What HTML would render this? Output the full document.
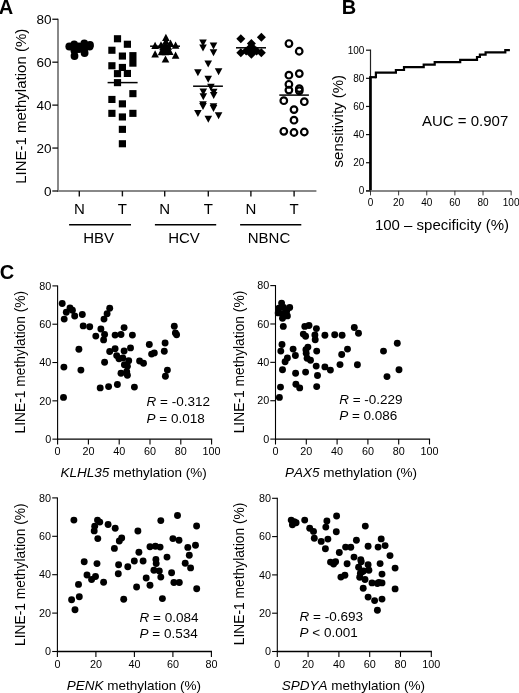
<!DOCTYPE html>
<html><head><meta charset="utf-8"><style>
html,body{margin:0;padding:0;background:#fff;}
svg{display:block;will-change:transform;}
text{font-family:"Liberation Sans",sans-serif;fill:#000;font-kerning:none;}
</style></head><body>
<svg width="519" height="693" viewBox="0 0 519 693">
<rect width="519" height="693" fill="#fff"/>
<text x="-1.20" y="13.90" font-size="20" text-anchor="start" font-weight="bold" font-style="normal" >A</text>
<line x1="58.00" y1="18.65" x2="58.00" y2="192.00" stroke="#888" stroke-width="2"/>
<line x1="57.00" y1="191.00" x2="316.40" y2="191.00" stroke="#888" stroke-width="2"/>
<line x1="52.30" y1="191.00" x2="58.00" y2="191.00" stroke="#111" stroke-width="1.3"/>
<text x="51.60" y="195.70" font-size="13.5" text-anchor="end" font-weight="normal" font-style="normal" >0</text>
<line x1="52.30" y1="148.06" x2="58.00" y2="148.06" stroke="#111" stroke-width="1.3"/>
<text x="51.60" y="152.76" font-size="13.5" text-anchor="end" font-weight="normal" font-style="normal" >20</text>
<line x1="52.30" y1="105.12" x2="58.00" y2="105.12" stroke="#111" stroke-width="1.3"/>
<text x="51.60" y="109.83" font-size="13.5" text-anchor="end" font-weight="normal" font-style="normal" >40</text>
<line x1="52.30" y1="62.19" x2="58.00" y2="62.19" stroke="#111" stroke-width="1.3"/>
<text x="51.60" y="66.89" font-size="13.5" text-anchor="end" font-weight="normal" font-style="normal" >60</text>
<line x1="52.30" y1="19.25" x2="58.00" y2="19.25" stroke="#111" stroke-width="1.3"/>
<text x="51.60" y="23.95" font-size="13.5" text-anchor="end" font-weight="normal" font-style="normal" >80</text>
<text x="0" y="0" font-size="15" text-anchor="middle" transform="translate(25.80,106.30) rotate(-90)">LINE-1 methylation (%)</text>
<line x1="79.30" y1="191.00" x2="79.30" y2="196.40" stroke="#111" stroke-width="1.4"/>
<text x="79.30" y="214.30" font-size="15" text-anchor="middle" font-weight="normal" font-style="normal" >N</text>
<line x1="122.40" y1="191.00" x2="122.40" y2="196.40" stroke="#111" stroke-width="1.4"/>
<text x="122.40" y="214.30" font-size="15" text-anchor="middle" font-weight="normal" font-style="normal" >T</text>
<line x1="164.70" y1="191.00" x2="164.70" y2="196.40" stroke="#111" stroke-width="1.4"/>
<text x="164.70" y="214.30" font-size="15" text-anchor="middle" font-weight="normal" font-style="normal" >N</text>
<line x1="208.30" y1="191.00" x2="208.30" y2="196.40" stroke="#111" stroke-width="1.4"/>
<text x="208.30" y="214.30" font-size="15" text-anchor="middle" font-weight="normal" font-style="normal" >T</text>
<line x1="250.90" y1="191.00" x2="250.90" y2="196.40" stroke="#111" stroke-width="1.4"/>
<text x="250.90" y="214.30" font-size="15" text-anchor="middle" font-weight="normal" font-style="normal" >N</text>
<line x1="294.10" y1="191.00" x2="294.10" y2="196.40" stroke="#111" stroke-width="1.4"/>
<text x="294.10" y="214.30" font-size="15" text-anchor="middle" font-weight="normal" font-style="normal" >T</text>
<line x1="69.10" y1="224.70" x2="131.00" y2="224.70" stroke="#000" stroke-width="1.5"/>
<text x="98.60" y="243.10" font-size="15" text-anchor="middle" font-weight="normal" font-style="normal" >HBV</text>
<line x1="154.90" y1="224.70" x2="216.20" y2="224.70" stroke="#000" stroke-width="1.5"/>
<text x="184.00" y="243.10" font-size="15" text-anchor="middle" font-weight="normal" font-style="normal" >HCV</text>
<line x1="240.10" y1="224.70" x2="301.30" y2="224.70" stroke="#000" stroke-width="1.5"/>
<text x="269.00" y="243.10" font-size="15" text-anchor="middle" font-weight="normal" font-style="normal" >NBNC</text>
<circle cx="69.30" cy="46.50" r="3.9" fill="#000"/>
<circle cx="74.20" cy="44.30" r="3.9" fill="#000"/>
<circle cx="79.00" cy="46.30" r="3.9" fill="#000"/>
<circle cx="84.30" cy="43.30" r="3.9" fill="#000"/>
<circle cx="90.00" cy="45.00" r="3.9" fill="#000"/>
<circle cx="89.60" cy="46.60" r="3.9" fill="#000"/>
<circle cx="74.40" cy="50.50" r="3.9" fill="#000"/>
<circle cx="84.50" cy="48.50" r="3.9" fill="#000"/>
<circle cx="74.50" cy="56.00" r="3.9" fill="#000"/>
<circle cx="84.60" cy="53.00" r="3.9" fill="#000"/>
<circle cx="79.00" cy="49.00" r="3.9" fill="#000"/>
<line x1="66.50" y1="48.20" x2="92.80" y2="48.20" stroke="#000" stroke-width="1.5"/>
<rect x="113.90" y="35.20" width="7.2" height="7.1" fill="#000"/>
<rect x="123.80" y="40.70" width="7.2" height="7.1" fill="#000"/>
<rect x="108.30" y="46.70" width="7.2" height="7.1" fill="#000"/>
<rect x="118.80" y="52.50" width="7.2" height="7.1" fill="#000"/>
<rect x="108.30" y="62.20" width="7.2" height="7.1" fill="#000"/>
<rect x="118.80" y="63.90" width="7.2" height="7.1" fill="#000"/>
<rect x="113.90" y="70.10" width="7.2" height="7.1" fill="#000"/>
<rect x="123.80" y="69.90" width="7.2" height="7.1" fill="#000"/>
<rect x="113.90" y="79.10" width="7.2" height="7.1" fill="#000"/>
<rect x="129.30" y="90.10" width="7.2" height="7.1" fill="#000"/>
<rect x="108.30" y="95.90" width="7.2" height="7.1" fill="#000"/>
<rect x="118.80" y="100.30" width="7.2" height="7.1" fill="#000"/>
<rect x="108.30" y="109.80" width="7.2" height="7.1" fill="#000"/>
<rect x="129.30" y="109.80" width="7.2" height="7.1" fill="#000"/>
<rect x="118.80" y="113.40" width="7.2" height="7.1" fill="#000"/>
<rect x="118.80" y="125.80" width="7.2" height="7.1" fill="#000"/>
<rect x="118.80" y="140.20" width="7.2" height="7.1" fill="#000"/>
<rect x="129.3" y="52.1" width="7.2" height="14.6" fill="#000"/>
<line x1="107.60" y1="82.60" x2="137.60" y2="82.60" stroke="#000" stroke-width="1.5"/>
<polygon points="165.90,33.70 169.70,40.90 162.10,40.90" fill="#000"/>
<polygon points="165.90,37.50 169.70,44.70 162.10,44.70" fill="#000"/>
<polygon points="161.00,41.30 164.80,48.50 157.20,48.50" fill="#000"/>
<polygon points="170.50,39.60 174.30,46.80 166.70,46.80" fill="#000"/>
<polygon points="155.10,41.80 158.90,49.00 151.30,49.00" fill="#000"/>
<polygon points="175.60,41.50 179.40,48.70 171.80,48.70" fill="#000"/>
<polygon points="165.50,41.50 169.30,48.70 161.70,48.70" fill="#000"/>
<polygon points="161.50,48.00 165.30,55.20 157.70,55.20" fill="#000"/>
<polygon points="169.80,47.90 173.60,55.10 166.00,55.10" fill="#000"/>
<polygon points="165.50,46.50 169.30,53.70 161.70,53.70" fill="#000"/>
<polygon points="165.50,44.00 169.30,51.20 161.70,51.20" fill="#000"/>
<polygon points="163.20,45.50 167.00,52.70 159.40,52.70" fill="#000"/>
<polygon points="167.80,45.50 171.60,52.70 164.00,52.70" fill="#000"/>
<polygon points="165.50,48.00 169.30,55.20 161.70,55.20" fill="#000"/>
<polygon points="163.00,43.00 166.80,50.20 159.20,50.20" fill="#000"/>
<polygon points="168.30,42.50 172.10,49.70 164.50,49.70" fill="#000"/>
<polygon points="155.10,50.20 158.90,57.40 151.30,57.40" fill="#000"/>
<polygon points="175.60,51.60 179.40,58.80 171.80,58.80" fill="#000"/>
<polygon points="165.50,55.40 169.30,62.60 161.70,62.60" fill="#000"/>
<line x1="150.10" y1="46.20" x2="180.00" y2="46.20" stroke="#000" stroke-width="1.5"/>
<polygon points="199.20,39.60 206.80,39.60 203.00,46.60" fill="#000"/>
<polygon points="199.20,44.60 206.80,44.60 203.00,51.60" fill="#000"/>
<polygon points="209.70,42.60 217.30,42.60 213.50,49.60" fill="#000"/>
<polygon points="209.70,49.20 217.30,49.20 213.50,56.20" fill="#000"/>
<polygon points="204.40,60.50 212.00,60.50 208.20,67.50" fill="#000"/>
<polygon points="194.10,69.20 201.70,69.20 197.90,76.20" fill="#000"/>
<polygon points="214.80,68.20 222.40,68.20 218.60,75.20" fill="#000"/>
<polygon points="204.40,75.70 212.00,75.70 208.20,82.70" fill="#000"/>
<polygon points="207.10,83.70 214.70,83.70 210.90,90.70" fill="#000"/>
<polygon points="199.50,88.40 207.10,88.40 203.30,95.40" fill="#000"/>
<polygon points="199.50,93.30 207.10,93.30 203.30,100.30" fill="#000"/>
<polygon points="209.90,88.80 217.50,88.80 213.70,95.80" fill="#000"/>
<polygon points="209.90,92.10 217.50,92.10 213.70,99.10" fill="#000"/>
<polygon points="199.20,101.20 206.80,101.20 203.00,108.20" fill="#000"/>
<polygon points="199.20,103.00 206.80,103.00 203.00,110.00" fill="#000"/>
<polygon points="209.70,103.30 217.30,103.30 213.50,110.30" fill="#000"/>
<polygon points="209.70,105.00 217.30,105.00 213.50,112.00" fill="#000"/>
<polygon points="194.10,110.00 201.70,110.00 197.90,117.00" fill="#000"/>
<polygon points="214.80,112.20 222.40,112.20 218.60,119.20" fill="#000"/>
<polygon points="204.50,115.70 212.10,115.70 208.30,122.70" fill="#000"/>
<line x1="193.10" y1="86.20" x2="222.90" y2="86.20" stroke="#000" stroke-width="1.5"/>
<polygon points="240.80,34.30 245.30,38.80 240.80,43.30 236.30,38.80" fill="#000"/>
<polygon points="261.40,32.80 265.90,37.30 261.40,41.80 256.90,37.30" fill="#000"/>
<polygon points="251.40,39.10 255.90,43.60 251.40,48.10 246.90,43.60" fill="#000"/>
<polygon points="240.80,48.20 245.30,52.70 240.80,57.20 236.30,52.70" fill="#000"/>
<polygon points="261.30,48.20 265.80,52.70 261.30,57.20 256.80,52.70" fill="#000"/>
<polygon points="251.40,49.80 255.90,54.30 251.40,58.80 246.90,54.30" fill="#000"/>
<polygon points="246.20,46.50 250.70,51.00 246.20,55.50 241.70,51.00" fill="#000"/>
<polygon points="256.60,46.50 261.10,51.00 256.60,55.50 252.10,51.00" fill="#000"/>
<polygon points="251.40,44.00 255.90,48.50 251.40,53.00 246.90,48.50" fill="#000"/>
<polygon points="251.40,42.00 255.90,46.50 251.40,51.00 246.90,46.50" fill="#000"/>
<polygon points="248.30,45.50 252.80,50.00 248.30,54.50 243.80,50.00" fill="#000"/>
<polygon points="254.50,45.50 259.00,50.00 254.50,54.50 250.00,50.00" fill="#000"/>
<line x1="236.00" y1="47.80" x2="266.00" y2="47.80" stroke="#000" stroke-width="1.5"/>
<circle cx="288.95" cy="43.55" r="3.3" fill="none" stroke="#000" stroke-width="2.2"/>
<circle cx="299.20" cy="51.25" r="3.3" fill="none" stroke="#000" stroke-width="2.2"/>
<circle cx="288.90" cy="75.20" r="3.3" fill="none" stroke="#000" stroke-width="2.2"/>
<circle cx="299.30" cy="73.60" r="3.3" fill="none" stroke="#000" stroke-width="2.2"/>
<circle cx="288.90" cy="84.30" r="3.3" fill="none" stroke="#000" stroke-width="2.2"/>
<circle cx="288.90" cy="90.10" r="3.3" fill="none" stroke="#000" stroke-width="2.2"/>
<circle cx="299.30" cy="88.60" r="3.3" fill="none" stroke="#000" stroke-width="2.2"/>
<circle cx="299.30" cy="90.80" r="3.3" fill="none" stroke="#000" stroke-width="2.2"/>
<circle cx="283.80" cy="100.70" r="3.3" fill="none" stroke="#000" stroke-width="2.2"/>
<circle cx="304.30" cy="101.70" r="3.3" fill="none" stroke="#000" stroke-width="2.2"/>
<circle cx="294.00" cy="109.60" r="3.3" fill="none" stroke="#000" stroke-width="2.2"/>
<circle cx="294.00" cy="120.20" r="3.3" fill="none" stroke="#000" stroke-width="2.2"/>
<circle cx="283.80" cy="131.30" r="3.3" fill="none" stroke="#000" stroke-width="2.2"/>
<circle cx="294.00" cy="132.50" r="3.3" fill="none" stroke="#000" stroke-width="2.2"/>
<circle cx="304.30" cy="132.00" r="3.3" fill="none" stroke="#000" stroke-width="2.2"/>
<line x1="279.30" y1="95.10" x2="308.90" y2="95.10" stroke="#000" stroke-width="1.5"/>
<text x="341.80" y="14.30" font-size="20" text-anchor="start" font-weight="bold" font-style="normal" >B</text>
<line x1="370.50" y1="49.60" x2="370.50" y2="190.85" stroke="#222" stroke-width="1.2"/>
<line x1="366.00" y1="191.00" x2="511.20" y2="191.00" stroke="#888" stroke-width="2"/>
<line x1="366.00" y1="190.85" x2="370.50" y2="190.85" stroke="#111" stroke-width="1.2"/>
<text x="364.40" y="194.45" font-size="10" text-anchor="end" font-weight="normal" font-style="normal" >0</text>
<line x1="370.50" y1="190.85" x2="370.50" y2="195.40" stroke="#222" stroke-width="0.9"/>
<text x="370.50" y="205.90" font-size="10" text-anchor="middle" font-weight="normal" font-style="normal" >0</text>
<line x1="366.00" y1="162.72" x2="370.50" y2="162.72" stroke="#111" stroke-width="1.2"/>
<text x="364.40" y="166.32" font-size="10" text-anchor="end" font-weight="normal" font-style="normal" >20</text>
<line x1="398.63" y1="190.85" x2="398.63" y2="195.40" stroke="#222" stroke-width="0.9"/>
<text x="398.63" y="205.90" font-size="10" text-anchor="middle" font-weight="normal" font-style="normal" >20</text>
<line x1="366.00" y1="134.59" x2="370.50" y2="134.59" stroke="#111" stroke-width="1.2"/>
<text x="364.40" y="138.19" font-size="10" text-anchor="end" font-weight="normal" font-style="normal" >40</text>
<line x1="426.76" y1="190.85" x2="426.76" y2="195.40" stroke="#222" stroke-width="0.9"/>
<text x="426.76" y="205.90" font-size="10" text-anchor="middle" font-weight="normal" font-style="normal" >40</text>
<line x1="366.00" y1="106.46" x2="370.50" y2="106.46" stroke="#111" stroke-width="1.2"/>
<text x="364.40" y="110.06" font-size="10" text-anchor="end" font-weight="normal" font-style="normal" >60</text>
<line x1="454.89" y1="190.85" x2="454.89" y2="195.40" stroke="#222" stroke-width="0.9"/>
<text x="454.89" y="205.90" font-size="10" text-anchor="middle" font-weight="normal" font-style="normal" >60</text>
<line x1="366.00" y1="78.33" x2="370.50" y2="78.33" stroke="#111" stroke-width="1.2"/>
<text x="364.40" y="81.93" font-size="10" text-anchor="end" font-weight="normal" font-style="normal" >80</text>
<line x1="483.02" y1="190.85" x2="483.02" y2="195.40" stroke="#222" stroke-width="0.9"/>
<text x="483.02" y="205.90" font-size="10" text-anchor="middle" font-weight="normal" font-style="normal" >80</text>
<line x1="366.00" y1="50.20" x2="370.50" y2="50.20" stroke="#111" stroke-width="1.2"/>
<text x="364.40" y="53.80" font-size="10" text-anchor="end" font-weight="normal" font-style="normal" >100</text>
<line x1="511.15" y1="190.85" x2="511.15" y2="195.40" stroke="#222" stroke-width="0.9"/>
<text x="511.15" y="205.90" font-size="10" text-anchor="middle" font-weight="normal" font-style="normal" >100</text>
<text x="0" y="0" font-size="15" text-anchor="middle" transform="translate(343.30,121.20) rotate(-90)">sensitivity (%)</text>
<text x="442.00" y="230.30" font-size="15" text-anchor="middle" font-weight="normal" font-style="normal" >100 – specificity (%)</text>
<text x="422.00" y="126.40" font-size="15" text-anchor="start" font-weight="normal" font-style="normal" >AUC = 0.907</text>
<path d="M375.9 77.2 V72.7 H395.9 V70.0 H404 V67.2 H423.7 V64.7 H434.7 V62.2 H460.2 V59.9 H477 V57.0 H479.9 V54.7 H485.6 V52.4 H505.3 V50.1 H508.8" fill="none" stroke="#000" stroke-width="2.2" stroke-linejoin="miter" stroke-linecap="square"/>
<path d="M370.45 77.2 H375.9" fill="none" stroke="#000" stroke-width="2.2"/>
<line x1="370.45" y1="76.20" x2="370.45" y2="190.20" stroke="#000" stroke-width="2.7"/>
<text x="-0.20" y="279.10" font-size="20" text-anchor="start" font-weight="bold" font-style="normal" >C</text>
<line x1="57.60" y1="285.40" x2="57.60" y2="439.75" stroke="#000" stroke-width="1.1"/>
<line x1="57.10" y1="439.15" x2="212.20" y2="439.15" stroke="#000" stroke-width="1.3"/>
<line x1="52.40" y1="439.15" x2="57.60" y2="439.15" stroke="#000" stroke-width="1.1"/>
<text x="51.30" y="442.85" font-size="10.8" text-anchor="end" font-weight="normal" font-style="normal" >0</text>
<line x1="52.40" y1="400.84" x2="57.60" y2="400.84" stroke="#000" stroke-width="1.1"/>
<text x="51.30" y="404.54" font-size="10.8" text-anchor="end" font-weight="normal" font-style="normal" >20</text>
<line x1="52.40" y1="362.52" x2="57.60" y2="362.52" stroke="#000" stroke-width="1.1"/>
<text x="51.30" y="366.22" font-size="10.8" text-anchor="end" font-weight="normal" font-style="normal" >40</text>
<line x1="52.40" y1="324.21" x2="57.60" y2="324.21" stroke="#000" stroke-width="1.1"/>
<text x="51.30" y="327.91" font-size="10.8" text-anchor="end" font-weight="normal" font-style="normal" >60</text>
<line x1="52.40" y1="285.90" x2="57.60" y2="285.90" stroke="#000" stroke-width="1.1"/>
<text x="51.30" y="289.60" font-size="10.8" text-anchor="end" font-weight="normal" font-style="normal" >80</text>
<line x1="57.60" y1="439.15" x2="57.60" y2="444.55" stroke="#000" stroke-width="1.1"/>
<text x="57.60" y="455.45" font-size="10.8" text-anchor="middle" font-weight="normal" font-style="normal" >0</text>
<line x1="88.40" y1="439.15" x2="88.40" y2="444.55" stroke="#000" stroke-width="1.1"/>
<text x="88.40" y="455.45" font-size="10.8" text-anchor="middle" font-weight="normal" font-style="normal" >20</text>
<line x1="119.20" y1="439.15" x2="119.20" y2="444.55" stroke="#000" stroke-width="1.1"/>
<text x="119.20" y="455.45" font-size="10.8" text-anchor="middle" font-weight="normal" font-style="normal" >40</text>
<line x1="150.00" y1="439.15" x2="150.00" y2="444.55" stroke="#000" stroke-width="1.1"/>
<text x="150.00" y="455.45" font-size="10.8" text-anchor="middle" font-weight="normal" font-style="normal" >60</text>
<line x1="180.80" y1="439.15" x2="180.80" y2="444.55" stroke="#000" stroke-width="1.1"/>
<text x="180.80" y="455.45" font-size="10.8" text-anchor="middle" font-weight="normal" font-style="normal" >80</text>
<line x1="211.60" y1="439.15" x2="211.60" y2="444.55" stroke="#000" stroke-width="1.1"/>
<text x="211.60" y="455.45" font-size="10.8" text-anchor="middle" font-weight="normal" font-style="normal" >100</text>
<text x="0" y="0" font-size="13.8" text-anchor="middle" transform="translate(24.90,362.10) rotate(-90)">LINE-1 methylation (%)</text>
<text x="133.60" y="476.65" font-size="13.5" text-anchor="middle"><tspan font-style="italic">KLHL35</tspan> methylation (%)</text>
<text x="146.60" y="406.40" font-size="13.5"><tspan font-style="italic">R</tspan> = -0.312</text>
<text x="146.60" y="423.00" font-size="13.5"><tspan font-style="italic">P</tspan> = 0.018</text>
<circle cx="62.20" cy="303.50" r="3.45" fill="#000"/>
<circle cx="70.00" cy="307.90" r="3.45" fill="#000"/>
<circle cx="72.40" cy="310.20" r="3.45" fill="#000"/>
<circle cx="66.30" cy="312.20" r="3.45" fill="#000"/>
<circle cx="64.20" cy="319.10" r="3.45" fill="#000"/>
<circle cx="74.70" cy="316.00" r="3.45" fill="#000"/>
<circle cx="82.30" cy="314.50" r="3.45" fill="#000"/>
<circle cx="109.70" cy="308.30" r="3.45" fill="#000"/>
<circle cx="107.10" cy="313.70" r="3.45" fill="#000"/>
<circle cx="104.00" cy="319.10" r="3.45" fill="#000"/>
<circle cx="83.20" cy="325.90" r="3.45" fill="#000"/>
<circle cx="89.70" cy="326.70" r="3.45" fill="#000"/>
<circle cx="100.90" cy="329.00" r="3.45" fill="#000"/>
<circle cx="104.60" cy="334.50" r="3.45" fill="#000"/>
<circle cx="95.80" cy="336.10" r="3.45" fill="#000"/>
<circle cx="103.60" cy="339.90" r="3.45" fill="#000"/>
<circle cx="124.10" cy="327.60" r="3.45" fill="#000"/>
<circle cx="121.00" cy="334.50" r="3.45" fill="#000"/>
<circle cx="115.10" cy="335.10" r="3.45" fill="#000"/>
<circle cx="132.40" cy="335.10" r="3.45" fill="#000"/>
<circle cx="78.90" cy="349.20" r="3.45" fill="#000"/>
<circle cx="109.70" cy="351.50" r="3.45" fill="#000"/>
<circle cx="115.10" cy="348.70" r="3.45" fill="#000"/>
<circle cx="124.10" cy="351.00" r="3.45" fill="#000"/>
<circle cx="130.50" cy="347.90" r="3.45" fill="#000"/>
<circle cx="116.70" cy="355.60" r="3.45" fill="#000"/>
<circle cx="119.00" cy="358.70" r="3.45" fill="#000"/>
<circle cx="122.80" cy="357.90" r="3.45" fill="#000"/>
<circle cx="128.70" cy="360.70" r="3.45" fill="#000"/>
<circle cx="104.60" cy="362.30" r="3.45" fill="#000"/>
<circle cx="174.30" cy="326.30" r="3.45" fill="#000"/>
<circle cx="175.40" cy="333.00" r="3.45" fill="#000"/>
<circle cx="176.60" cy="334.80" r="3.45" fill="#000"/>
<circle cx="149.30" cy="344.50" r="3.45" fill="#000"/>
<circle cx="165.10" cy="343.00" r="3.45" fill="#000"/>
<circle cx="164.30" cy="351.30" r="3.45" fill="#000"/>
<circle cx="151.60" cy="354.10" r="3.45" fill="#000"/>
<circle cx="154.30" cy="352.90" r="3.45" fill="#000"/>
<circle cx="139.60" cy="361.00" r="3.45" fill="#000"/>
<circle cx="143.50" cy="363.30" r="3.45" fill="#000"/>
<circle cx="63.90" cy="367.10" r="3.45" fill="#000"/>
<circle cx="80.90" cy="370.10" r="3.45" fill="#000"/>
<circle cx="124.40" cy="364.70" r="3.45" fill="#000"/>
<circle cx="127.40" cy="366.30" r="3.45" fill="#000"/>
<circle cx="121.00" cy="373.20" r="3.45" fill="#000"/>
<circle cx="126.70" cy="371.70" r="3.45" fill="#000"/>
<circle cx="127.40" cy="375.20" r="3.45" fill="#000"/>
<circle cx="100.20" cy="387.90" r="3.45" fill="#000"/>
<circle cx="108.60" cy="386.60" r="3.45" fill="#000"/>
<circle cx="117.40" cy="384.50" r="3.45" fill="#000"/>
<circle cx="134.40" cy="387.10" r="3.45" fill="#000"/>
<circle cx="63.50" cy="397.40" r="3.45" fill="#000"/>
<circle cx="167.40" cy="370.10" r="3.45" fill="#000"/>
<circle cx="165.40" cy="376.30" r="3.45" fill="#000"/>
<line x1="275.50" y1="285.10" x2="275.50" y2="439.70" stroke="#000" stroke-width="1.1"/>
<line x1="275.00" y1="439.10" x2="430.10" y2="439.10" stroke="#000" stroke-width="1.3"/>
<line x1="270.30" y1="439.10" x2="275.50" y2="439.10" stroke="#000" stroke-width="1.1"/>
<text x="269.20" y="442.80" font-size="10.8" text-anchor="end" font-weight="normal" font-style="normal" >0</text>
<line x1="270.30" y1="400.73" x2="275.50" y2="400.73" stroke="#000" stroke-width="1.1"/>
<text x="269.20" y="404.43" font-size="10.8" text-anchor="end" font-weight="normal" font-style="normal" >20</text>
<line x1="270.30" y1="362.35" x2="275.50" y2="362.35" stroke="#000" stroke-width="1.1"/>
<text x="269.20" y="366.05" font-size="10.8" text-anchor="end" font-weight="normal" font-style="normal" >40</text>
<line x1="270.30" y1="323.98" x2="275.50" y2="323.98" stroke="#000" stroke-width="1.1"/>
<text x="269.20" y="327.68" font-size="10.8" text-anchor="end" font-weight="normal" font-style="normal" >60</text>
<line x1="270.30" y1="285.60" x2="275.50" y2="285.60" stroke="#000" stroke-width="1.1"/>
<text x="269.20" y="289.30" font-size="10.8" text-anchor="end" font-weight="normal" font-style="normal" >80</text>
<line x1="275.50" y1="439.10" x2="275.50" y2="444.50" stroke="#000" stroke-width="1.1"/>
<text x="275.50" y="455.40" font-size="10.8" text-anchor="middle" font-weight="normal" font-style="normal" >0</text>
<line x1="306.30" y1="439.10" x2="306.30" y2="444.50" stroke="#000" stroke-width="1.1"/>
<text x="306.30" y="455.40" font-size="10.8" text-anchor="middle" font-weight="normal" font-style="normal" >20</text>
<line x1="337.10" y1="439.10" x2="337.10" y2="444.50" stroke="#000" stroke-width="1.1"/>
<text x="337.10" y="455.40" font-size="10.8" text-anchor="middle" font-weight="normal" font-style="normal" >40</text>
<line x1="367.90" y1="439.10" x2="367.90" y2="444.50" stroke="#000" stroke-width="1.1"/>
<text x="367.90" y="455.40" font-size="10.8" text-anchor="middle" font-weight="normal" font-style="normal" >60</text>
<line x1="398.70" y1="439.10" x2="398.70" y2="444.50" stroke="#000" stroke-width="1.1"/>
<text x="398.70" y="455.40" font-size="10.8" text-anchor="middle" font-weight="normal" font-style="normal" >80</text>
<line x1="429.50" y1="439.10" x2="429.50" y2="444.50" stroke="#000" stroke-width="1.1"/>
<text x="429.50" y="455.40" font-size="10.8" text-anchor="middle" font-weight="normal" font-style="normal" >100</text>
<text x="0" y="0" font-size="13.8" text-anchor="middle" transform="translate(243.90,362.00) rotate(-90)">LINE-1 methylation (%)</text>
<text x="351.00" y="476.60" font-size="13.5" text-anchor="middle"><tspan font-style="italic">PAX5</tspan> methylation (%)</text>
<text x="339.20" y="404.10" font-size="13.5"><tspan font-style="italic">R</tspan> = -0.229</text>
<text x="339.20" y="420.00" font-size="13.5"><tspan font-style="italic">P</tspan> = 0.086</text>
<circle cx="281.60" cy="303.10" r="3.45" fill="#000"/>
<circle cx="289.70" cy="307.50" r="3.45" fill="#000"/>
<circle cx="278.90" cy="308.20" r="3.45" fill="#000"/>
<circle cx="283.60" cy="307.50" r="3.45" fill="#000"/>
<circle cx="278.20" cy="312.90" r="3.45" fill="#000"/>
<circle cx="286.60" cy="311.30" r="3.45" fill="#000"/>
<circle cx="282.00" cy="313.60" r="3.45" fill="#000"/>
<circle cx="287.40" cy="315.90" r="3.45" fill="#000"/>
<circle cx="282.50" cy="318.20" r="3.45" fill="#000"/>
<circle cx="284.30" cy="315.20" r="3.45" fill="#000"/>
<circle cx="283.30" cy="326.40" r="3.45" fill="#000"/>
<circle cx="304.80" cy="326.40" r="3.45" fill="#000"/>
<circle cx="309.00" cy="325.50" r="3.45" fill="#000"/>
<circle cx="316.40" cy="328.60" r="3.45" fill="#000"/>
<circle cx="303.30" cy="334.10" r="3.45" fill="#000"/>
<circle cx="305.60" cy="336.30" r="3.45" fill="#000"/>
<circle cx="314.90" cy="334.90" r="3.45" fill="#000"/>
<circle cx="315.20" cy="339.80" r="3.45" fill="#000"/>
<circle cx="324.90" cy="335.20" r="3.45" fill="#000"/>
<circle cx="334.70" cy="334.70" r="3.45" fill="#000"/>
<circle cx="342.10" cy="335.20" r="3.45" fill="#000"/>
<circle cx="282.00" cy="344.50" r="3.45" fill="#000"/>
<circle cx="280.80" cy="351.10" r="3.45" fill="#000"/>
<circle cx="293.10" cy="349.10" r="3.45" fill="#000"/>
<circle cx="295.40" cy="355.50" r="3.45" fill="#000"/>
<circle cx="287.40" cy="357.90" r="3.45" fill="#000"/>
<circle cx="285.10" cy="361.70" r="3.45" fill="#000"/>
<circle cx="307.90" cy="347.10" r="3.45" fill="#000"/>
<circle cx="305.90" cy="349.80" r="3.45" fill="#000"/>
<circle cx="306.20" cy="353.20" r="3.45" fill="#000"/>
<circle cx="307.10" cy="358.30" r="3.45" fill="#000"/>
<circle cx="310.50" cy="360.30" r="3.45" fill="#000"/>
<circle cx="316.70" cy="351.10" r="3.45" fill="#000"/>
<circle cx="316.20" cy="366.10" r="3.45" fill="#000"/>
<circle cx="324.90" cy="366.90" r="3.45" fill="#000"/>
<circle cx="330.40" cy="370.10" r="3.45" fill="#000"/>
<circle cx="340.00" cy="364.60" r="3.45" fill="#000"/>
<circle cx="341.70" cy="354.50" r="3.45" fill="#000"/>
<circle cx="347.50" cy="349.10" r="3.45" fill="#000"/>
<circle cx="282.50" cy="369.80" r="3.45" fill="#000"/>
<circle cx="354.30" cy="327.50" r="3.45" fill="#000"/>
<circle cx="358.50" cy="333.20" r="3.45" fill="#000"/>
<circle cx="357.40" cy="364.70" r="3.45" fill="#000"/>
<circle cx="383.50" cy="351.10" r="3.45" fill="#000"/>
<circle cx="397.30" cy="343.20" r="3.45" fill="#000"/>
<circle cx="399.00" cy="369.70" r="3.45" fill="#000"/>
<circle cx="387.00" cy="376.60" r="3.45" fill="#000"/>
<circle cx="295.60" cy="373.20" r="3.45" fill="#000"/>
<circle cx="305.60" cy="372.10" r="3.45" fill="#000"/>
<circle cx="317.50" cy="375.50" r="3.45" fill="#000"/>
<circle cx="280.50" cy="387.10" r="3.45" fill="#000"/>
<circle cx="295.90" cy="384.30" r="3.45" fill="#000"/>
<circle cx="299.70" cy="387.90" r="3.45" fill="#000"/>
<circle cx="316.70" cy="386.60" r="3.45" fill="#000"/>
<circle cx="279.40" cy="397.40" r="3.45" fill="#000"/>
<line x1="57.40" y1="497.40" x2="57.40" y2="652.10" stroke="#000" stroke-width="1.1"/>
<line x1="56.90" y1="651.50" x2="212.00" y2="651.50" stroke="#000" stroke-width="1.3"/>
<line x1="52.20" y1="651.50" x2="57.40" y2="651.50" stroke="#000" stroke-width="1.1"/>
<text x="51.10" y="655.20" font-size="10.8" text-anchor="end" font-weight="normal" font-style="normal" >0</text>
<line x1="52.20" y1="613.10" x2="57.40" y2="613.10" stroke="#000" stroke-width="1.1"/>
<text x="51.10" y="616.80" font-size="10.8" text-anchor="end" font-weight="normal" font-style="normal" >20</text>
<line x1="52.20" y1="574.70" x2="57.40" y2="574.70" stroke="#000" stroke-width="1.1"/>
<text x="51.10" y="578.40" font-size="10.8" text-anchor="end" font-weight="normal" font-style="normal" >40</text>
<line x1="52.20" y1="536.30" x2="57.40" y2="536.30" stroke="#000" stroke-width="1.1"/>
<text x="51.10" y="540.00" font-size="10.8" text-anchor="end" font-weight="normal" font-style="normal" >60</text>
<line x1="52.20" y1="497.90" x2="57.40" y2="497.90" stroke="#000" stroke-width="1.1"/>
<text x="51.10" y="501.60" font-size="10.8" text-anchor="end" font-weight="normal" font-style="normal" >80</text>
<line x1="57.40" y1="651.50" x2="57.40" y2="656.90" stroke="#000" stroke-width="1.1"/>
<text x="57.40" y="667.80" font-size="10.8" text-anchor="middle" font-weight="normal" font-style="normal" >0</text>
<line x1="95.90" y1="651.50" x2="95.90" y2="656.90" stroke="#000" stroke-width="1.1"/>
<text x="95.90" y="667.80" font-size="10.8" text-anchor="middle" font-weight="normal" font-style="normal" >20</text>
<line x1="134.40" y1="651.50" x2="134.40" y2="656.90" stroke="#000" stroke-width="1.1"/>
<text x="134.40" y="667.80" font-size="10.8" text-anchor="middle" font-weight="normal" font-style="normal" >40</text>
<line x1="172.90" y1="651.50" x2="172.90" y2="656.90" stroke="#000" stroke-width="1.1"/>
<text x="172.90" y="667.80" font-size="10.8" text-anchor="middle" font-weight="normal" font-style="normal" >60</text>
<line x1="211.40" y1="651.50" x2="211.40" y2="656.90" stroke="#000" stroke-width="1.1"/>
<text x="211.40" y="667.80" font-size="10.8" text-anchor="middle" font-weight="normal" font-style="normal" >80</text>
<text x="0" y="0" font-size="13.8" text-anchor="middle" transform="translate(25.40,574.60) rotate(-90)">LINE-1 methylation (%)</text>
<text x="133.90" y="689.60" font-size="13.5" text-anchor="middle"><tspan font-style="italic">PENK</tspan> methylation (%)</text>
<text x="139.60" y="622.10" font-size="13.5"><tspan font-style="italic">R</tspan> = 0.084</text>
<text x="139.60" y="637.80" font-size="13.5"><tspan font-style="italic">P</tspan> = 0.534</text>
<circle cx="73.90" cy="520.10" r="3.45" fill="#000"/>
<circle cx="97.50" cy="520.10" r="3.45" fill="#000"/>
<circle cx="99.80" cy="522.10" r="3.45" fill="#000"/>
<circle cx="108.10" cy="524.50" r="3.45" fill="#000"/>
<circle cx="115.20" cy="528.20" r="3.45" fill="#000"/>
<circle cx="94.70" cy="526.30" r="3.45" fill="#000"/>
<circle cx="94.20" cy="530.90" r="3.45" fill="#000"/>
<circle cx="97.80" cy="538.60" r="3.45" fill="#000"/>
<circle cx="121.70" cy="537.90" r="3.45" fill="#000"/>
<circle cx="119.30" cy="541.00" r="3.45" fill="#000"/>
<circle cx="114.40" cy="548.40" r="3.45" fill="#000"/>
<circle cx="137.90" cy="531.00" r="3.45" fill="#000"/>
<circle cx="138.90" cy="552.20" r="3.45" fill="#000"/>
<circle cx="84.20" cy="561.80" r="3.45" fill="#000"/>
<circle cx="97.00" cy="563.60" r="3.45" fill="#000"/>
<circle cx="118.60" cy="564.80" r="3.45" fill="#000"/>
<circle cx="127.80" cy="566.70" r="3.45" fill="#000"/>
<circle cx="134.30" cy="561.00" r="3.45" fill="#000"/>
<circle cx="118.30" cy="573.80" r="3.45" fill="#000"/>
<circle cx="87.00" cy="575.00" r="3.45" fill="#000"/>
<circle cx="91.60" cy="579.50" r="3.45" fill="#000"/>
<circle cx="95.50" cy="576.50" r="3.45" fill="#000"/>
<circle cx="103.60" cy="582.30" r="3.45" fill="#000"/>
<circle cx="78.50" cy="584.40" r="3.45" fill="#000"/>
<circle cx="136.60" cy="587.00" r="3.45" fill="#000"/>
<circle cx="160.80" cy="520.60" r="3.45" fill="#000"/>
<circle cx="177.50" cy="515.50" r="3.45" fill="#000"/>
<circle cx="196.60" cy="526.00" r="3.45" fill="#000"/>
<circle cx="172.90" cy="538.60" r="3.45" fill="#000"/>
<circle cx="179.00" cy="540.20" r="3.45" fill="#000"/>
<circle cx="150.00" cy="546.80" r="3.45" fill="#000"/>
<circle cx="155.40" cy="546.30" r="3.45" fill="#000"/>
<circle cx="160.10" cy="547.10" r="3.45" fill="#000"/>
<circle cx="143.10" cy="561.00" r="3.45" fill="#000"/>
<circle cx="155.90" cy="559.50" r="3.45" fill="#000"/>
<circle cx="156.20" cy="563.60" r="3.45" fill="#000"/>
<circle cx="167.00" cy="557.10" r="3.45" fill="#000"/>
<circle cx="187.80" cy="547.40" r="3.45" fill="#000"/>
<circle cx="195.50" cy="545.30" r="3.45" fill="#000"/>
<circle cx="189.30" cy="555.30" r="3.45" fill="#000"/>
<circle cx="185.20" cy="563.30" r="3.45" fill="#000"/>
<circle cx="190.60" cy="567.90" r="3.45" fill="#000"/>
<circle cx="153.90" cy="570.20" r="3.45" fill="#000"/>
<circle cx="159.30" cy="571.00" r="3.45" fill="#000"/>
<circle cx="160.80" cy="577.10" r="3.45" fill="#000"/>
<circle cx="171.60" cy="572.70" r="3.45" fill="#000"/>
<circle cx="146.20" cy="578.00" r="3.45" fill="#000"/>
<circle cx="150.00" cy="585.20" r="3.45" fill="#000"/>
<circle cx="173.90" cy="582.50" r="3.45" fill="#000"/>
<circle cx="179.30" cy="582.50" r="3.45" fill="#000"/>
<circle cx="79.30" cy="596.70" r="3.45" fill="#000"/>
<circle cx="71.60" cy="599.80" r="3.45" fill="#000"/>
<circle cx="75.00" cy="609.80" r="3.45" fill="#000"/>
<circle cx="123.70" cy="599.30" r="3.45" fill="#000"/>
<circle cx="196.70" cy="588.70" r="3.45" fill="#000"/>
<circle cx="162.40" cy="598.60" r="3.45" fill="#000"/>
<line x1="277.30" y1="497.80" x2="277.30" y2="652.10" stroke="#000" stroke-width="1.1"/>
<line x1="276.80" y1="651.50" x2="431.90" y2="651.50" stroke="#000" stroke-width="1.3"/>
<line x1="272.10" y1="651.50" x2="277.30" y2="651.50" stroke="#000" stroke-width="1.1"/>
<text x="271.00" y="655.20" font-size="10.8" text-anchor="end" font-weight="normal" font-style="normal" >0</text>
<line x1="272.10" y1="613.20" x2="277.30" y2="613.20" stroke="#000" stroke-width="1.1"/>
<text x="271.00" y="616.90" font-size="10.8" text-anchor="end" font-weight="normal" font-style="normal" >20</text>
<line x1="272.10" y1="574.90" x2="277.30" y2="574.90" stroke="#000" stroke-width="1.1"/>
<text x="271.00" y="578.60" font-size="10.8" text-anchor="end" font-weight="normal" font-style="normal" >40</text>
<line x1="272.10" y1="536.60" x2="277.30" y2="536.60" stroke="#000" stroke-width="1.1"/>
<text x="271.00" y="540.30" font-size="10.8" text-anchor="end" font-weight="normal" font-style="normal" >60</text>
<line x1="272.10" y1="498.30" x2="277.30" y2="498.30" stroke="#000" stroke-width="1.1"/>
<text x="271.00" y="502.00" font-size="10.8" text-anchor="end" font-weight="normal" font-style="normal" >80</text>
<line x1="277.30" y1="651.50" x2="277.30" y2="656.90" stroke="#000" stroke-width="1.1"/>
<text x="277.30" y="667.80" font-size="10.8" text-anchor="middle" font-weight="normal" font-style="normal" >0</text>
<line x1="308.10" y1="651.50" x2="308.10" y2="656.90" stroke="#000" stroke-width="1.1"/>
<text x="308.10" y="667.80" font-size="10.8" text-anchor="middle" font-weight="normal" font-style="normal" >20</text>
<line x1="338.90" y1="651.50" x2="338.90" y2="656.90" stroke="#000" stroke-width="1.1"/>
<text x="338.90" y="667.80" font-size="10.8" text-anchor="middle" font-weight="normal" font-style="normal" >40</text>
<line x1="369.70" y1="651.50" x2="369.70" y2="656.90" stroke="#000" stroke-width="1.1"/>
<text x="369.70" y="667.80" font-size="10.8" text-anchor="middle" font-weight="normal" font-style="normal" >60</text>
<line x1="400.50" y1="651.50" x2="400.50" y2="656.90" stroke="#000" stroke-width="1.1"/>
<text x="400.50" y="667.80" font-size="10.8" text-anchor="middle" font-weight="normal" font-style="normal" >80</text>
<line x1="431.30" y1="651.50" x2="431.30" y2="656.90" stroke="#000" stroke-width="1.1"/>
<text x="431.30" y="667.80" font-size="10.8" text-anchor="middle" font-weight="normal" font-style="normal" >100</text>
<text x="0" y="0" font-size="13.8" text-anchor="middle" transform="translate(244.40,573.90) rotate(-90)">LINE-1 methylation (%)</text>
<text x="353.30" y="689.60" font-size="13.5" text-anchor="middle"><tspan font-style="italic">SPDYA</tspan> methylation (%)</text>
<text x="299.60" y="621.30" font-size="13.5"><tspan font-style="italic">R</tspan> = -0.693</text>
<text x="299.60" y="637.40" font-size="13.5"><tspan font-style="italic">P</tspan> &lt; 0.001</text>
<circle cx="291.20" cy="520.10" r="3.45" fill="#000"/>
<circle cx="294.20" cy="521.70" r="3.45" fill="#000"/>
<circle cx="296.10" cy="522.80" r="3.45" fill="#000"/>
<circle cx="292.40" cy="524.80" r="3.45" fill="#000"/>
<circle cx="304.70" cy="520.10" r="3.45" fill="#000"/>
<circle cx="336.60" cy="516.00" r="3.45" fill="#000"/>
<circle cx="326.90" cy="520.90" r="3.45" fill="#000"/>
<circle cx="325.80" cy="527.10" r="3.45" fill="#000"/>
<circle cx="309.70" cy="528.30" r="3.45" fill="#000"/>
<circle cx="313.50" cy="531.40" r="3.45" fill="#000"/>
<circle cx="336.30" cy="531.70" r="3.45" fill="#000"/>
<circle cx="314.30" cy="538.20" r="3.45" fill="#000"/>
<circle cx="321.20" cy="541.40" r="3.45" fill="#000"/>
<circle cx="327.90" cy="539.10" r="3.45" fill="#000"/>
<circle cx="325.40" cy="548.70" r="3.45" fill="#000"/>
<circle cx="365.30" cy="526.10" r="3.45" fill="#000"/>
<circle cx="356.40" cy="540.20" r="3.45" fill="#000"/>
<circle cx="345.60" cy="547.10" r="3.45" fill="#000"/>
<circle cx="350.80" cy="547.30" r="3.45" fill="#000"/>
<circle cx="339.30" cy="552.50" r="3.45" fill="#000"/>
<circle cx="354.00" cy="557.10" r="3.45" fill="#000"/>
<circle cx="360.80" cy="559.70" r="3.45" fill="#000"/>
<circle cx="330.50" cy="562.10" r="3.45" fill="#000"/>
<circle cx="335.60" cy="561.80" r="3.45" fill="#000"/>
<circle cx="333.60" cy="564.10" r="3.45" fill="#000"/>
<circle cx="347.10" cy="563.70" r="3.45" fill="#000"/>
<circle cx="358.60" cy="567.20" r="3.45" fill="#000"/>
<circle cx="362.10" cy="571.80" r="3.45" fill="#000"/>
<circle cx="359.70" cy="577.20" r="3.45" fill="#000"/>
<circle cx="340.90" cy="577.10" r="3.45" fill="#000"/>
<circle cx="344.90" cy="575.30" r="3.45" fill="#000"/>
<circle cx="381.20" cy="538.90" r="3.45" fill="#000"/>
<circle cx="385.10" cy="545.60" r="3.45" fill="#000"/>
<circle cx="378.10" cy="547.10" r="3.45" fill="#000"/>
<circle cx="368.10" cy="546.30" r="3.45" fill="#000"/>
<circle cx="390.00" cy="555.60" r="3.45" fill="#000"/>
<circle cx="361.20" cy="561.80" r="3.45" fill="#000"/>
<circle cx="380.10" cy="563.60" r="3.45" fill="#000"/>
<circle cx="368.10" cy="564.80" r="3.45" fill="#000"/>
<circle cx="395.10" cy="568.10" r="3.45" fill="#000"/>
<circle cx="363.50" cy="571.00" r="3.45" fill="#000"/>
<circle cx="368.90" cy="570.20" r="3.45" fill="#000"/>
<circle cx="360.40" cy="573.30" r="3.45" fill="#000"/>
<circle cx="382.00" cy="574.10" r="3.45" fill="#000"/>
<circle cx="365.00" cy="579.50" r="3.45" fill="#000"/>
<circle cx="372.00" cy="582.90" r="3.45" fill="#000"/>
<circle cx="377.40" cy="583.50" r="3.45" fill="#000"/>
<circle cx="382.00" cy="582.90" r="3.45" fill="#000"/>
<circle cx="378.90" cy="582.50" r="3.45" fill="#000"/>
<circle cx="363.20" cy="588.30" r="3.45" fill="#000"/>
<circle cx="395.10" cy="588.90" r="3.45" fill="#000"/>
<circle cx="368.10" cy="597.10" r="3.45" fill="#000"/>
<circle cx="374.60" cy="600.60" r="3.45" fill="#000"/>
<circle cx="382.00" cy="599.10" r="3.45" fill="#000"/>
<circle cx="377.40" cy="610.20" r="3.45" fill="#000"/>
</svg>
</body></html>
